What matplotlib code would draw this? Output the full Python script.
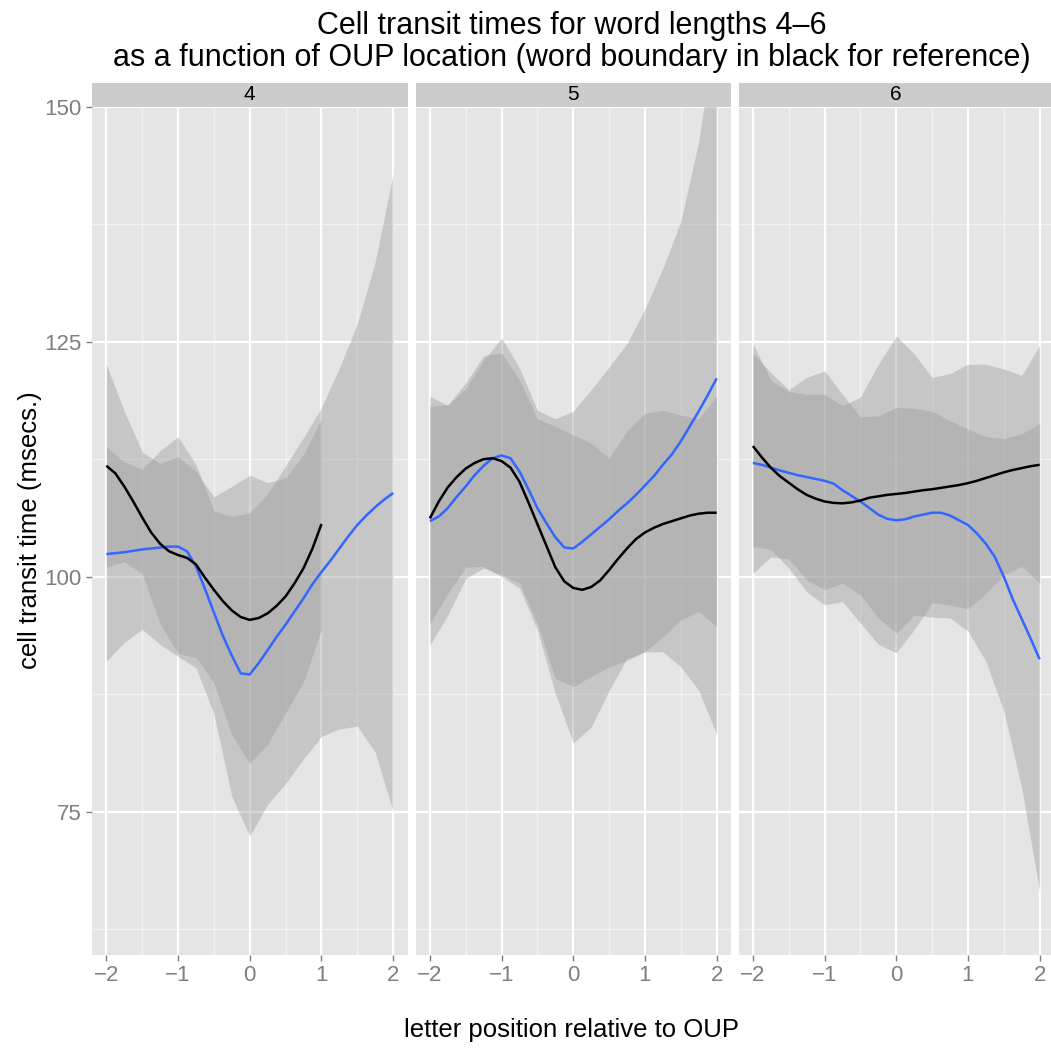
import numpy as np
import matplotlib
matplotlib.use("Agg")
import matplotlib.pyplot as plt

plt.rcParams['font.family'] = ['Liberation Sans', 'DejaVu Sans']

# ---------------- data ----------------
facet_labels = ["4", "5", "6"]
x_ticks = [-2, -1, 0, 1, 2]
y_ticks = [75, 100, 125, 150]

# fine grid for fitted lines
x_fine = [-2.0, -1.875, -1.75, -1.625, -1.5, -1.375, -1.25, -1.125, -1.0,
          -0.875, -0.75, -0.625, -0.5, -0.375, -0.25, -0.125, 0.0,
          0.125, 0.25, 0.375, 0.5, 0.625, 0.75, 0.875, 1.0,
          1.125, 1.25, 1.375, 1.5, 1.625, 1.75, 1.875, 2.0]
# coarse grid for confidence bands
x_band = [-2.0, -1.75, -1.5, -1.25, -1.0, -0.75, -0.5, -0.25, 0.0,
          0.25, 0.5, 0.75, 1.0, 1.25, 1.5, 1.75, 2.0]

# --- word length 4 (word boundary only reaches x = 1) ---
wl4_boundary_fit = [111.8, 111.0, 109.6, 108.0, 106.3, 104.7, 103.5, 102.7, 102.3,
                    102.0, 101.3, 99.9, 98.6, 97.4, 96.4, 95.7, 95.4,
                    95.6, 96.1, 96.9, 97.9, 99.3, 100.9, 103.0, 105.6]
wl4_oup_fit = [102.4, 102.5, 102.6, 102.75, 102.9, 103.0, 103.1, 103.2, 103.2,
               102.7, 101.1, 98.7, 96.2, 93.7, 91.6, 89.7, 89.6,
               90.8, 92.2, 93.6, 94.9, 96.3, 97.7, 99.2, 100.5,
               101.7, 103.0, 104.3, 105.5, 106.5, 107.4, 108.2, 108.9]
wl4_boundary_upper = [122.6, 117.6, 113.3, 112.0, 112.8, 111.2, 108.5, 109.6, 110.8,
                      110.0, 110.5, 113.0, 116.8]
wl4_boundary_lower = [101.0, 101.6, 100.3, 95.0, 91.8, 91.4, 88.7, 83.2, 80.1,
                      82.2, 85.5, 88.8, 94.4]
wl4_oup_upper = [113.8, 112.2, 111.4, 113.4, 114.9, 111.9, 107.0, 106.4, 106.8,
                 108.8, 111.8, 114.8, 118.0, 122.2, 126.9, 133.5, 142.9]
wl4_oup_lower = [91.0, 93.0, 94.4, 92.8, 91.5, 90.3, 85.4, 76.6, 72.4,
                 75.8, 78.0, 80.6, 83.0, 83.8, 84.1, 81.3, 75.0]

# --- word length 5 ---
wl5_boundary_fit = [106.2, 108.0, 109.5, 110.6, 111.5, 112.1, 112.5, 112.6, 112.3,
                    111.6, 110.1, 107.9, 105.6, 103.3, 101.0, 99.5, 98.8,
                    98.6, 98.9, 99.6, 100.7, 101.9, 103.0, 104.0, 104.7,
                    105.2, 105.6, 105.9, 106.2, 106.5, 106.7, 106.8, 106.8]
wl5_oup_fit = [105.9, 106.4, 107.3, 108.5, 109.6, 110.8, 111.8, 112.6, 112.9,
               112.6, 111.2, 109.3, 107.3, 105.7, 104.2, 103.1, 103.0,
               103.7, 104.5, 105.3, 106.1, 107.0, 107.8, 108.7, 109.7,
               110.7, 111.9, 113.0, 114.4, 116.0, 117.6, 119.3, 121.1]
wl5_boundary_upper = [118.1, 118.3, 120.6, 123.5, 123.8, 120.9, 116.8, 116.0, 115.1,
                      114.2, 112.6, 115.5, 117.4, 117.7, 117.2, 116.8, 119.2]
wl5_boundary_lower = [95.0, 98.2, 101.0, 101.1, 100.0, 98.8, 94.3, 87.6, 82.3,
                      84.0, 87.9, 91.3, 92.0, 93.6, 95.4, 96.3, 94.7]
wl5_oup_upper = [119.2, 118.2, 120.0, 123.0, 125.4, 122.2, 117.7, 116.8, 117.6,
                 119.9, 122.3, 124.8, 128.5, 132.8, 137.8, 146.3, 159.0]
wl5_oup_lower = [92.7, 95.9, 99.8, 100.9, 100.2, 99.3, 95.0, 89.2, 88.3,
                 89.4, 90.4, 91.1, 92.0, 92.0, 90.4, 87.9, 83.2]

# --- word length 6 ---
wl6_boundary_fit = [113.9, 112.7, 111.6, 110.7, 110.0, 109.3, 108.7, 108.3, 108.0,
                    107.85, 107.8, 107.9, 108.1, 108.4, 108.55, 108.7, 108.8,
                    108.9, 109.05, 109.2, 109.3, 109.45, 109.6, 109.75, 109.95,
                    110.2, 110.5, 110.8, 111.1, 111.35, 111.55, 111.75, 111.9]
wl6_oup_fit = [112.1, 111.9, 111.6, 111.3, 111.05, 110.8, 110.6, 110.4, 110.2,
               109.9, 109.2, 108.6, 108.0, 107.3, 106.6, 106.15, 106.0,
               106.1, 106.4, 106.6, 106.8, 106.8, 106.5, 106.0, 105.5,
               104.6, 103.5, 102.1, 100.0, 97.6, 95.5, 93.4, 91.2]
wl6_boundary_upper = [124.8, 120.9, 119.7, 119.4, 119.4, 118.2, 119.1, 122.6, 125.6,
                      123.7, 121.2, 121.6, 122.6, 122.6, 122.1, 121.4, 124.6]
wl6_boundary_lower = [103.2, 102.9, 100.9, 98.4, 97.0, 97.35, 95.05, 92.8, 91.9,
                      94.35, 97.2, 97.0, 96.6, 98.2, 100.2, 101.1, 99.3]
wl6_oup_upper = [123.8, 121.7, 119.9, 121.2, 121.9, 119.4, 117.0, 117.1, 118.0,
                 117.9, 117.6, 116.6, 115.7, 114.9, 114.7, 115.2, 116.3]
wl6_oup_lower = [100.35, 102.1, 101.9, 99.65, 98.6, 99.3, 98.05, 95.6, 94.0,
                 95.9, 95.7, 95.6, 94.2, 91.0, 85.7, 77.5, 66.5]

panels = [
    dict(b_fit=wl4_boundary_fit, o_fit=wl4_oup_fit,
         b_up=wl4_boundary_upper, b_lo=wl4_boundary_lower,
         o_up=wl4_oup_upper, o_lo=wl4_oup_lower),
    dict(b_fit=wl5_boundary_fit, o_fit=wl5_oup_fit,
         b_up=wl5_boundary_upper, b_lo=wl5_boundary_lower,
         o_up=wl5_oup_upper, o_lo=wl5_oup_lower),
    dict(b_fit=wl6_boundary_fit, o_fit=wl6_oup_fit,
         b_up=wl6_boundary_upper, b_lo=wl6_boundary_lower,
         o_up=wl6_oup_upper, o_lo=wl6_oup_lower),
]

# ---------------- styling ----------------
W, H = 1051, 1048
fig = plt.figure(figsize=(W / 100, H / 100), dpi=100)
fig.patch.set_facecolor("white")

def rect(l, t, r, b):
    return [l / W, 1 - b / H, (r - l) / W, (b - t) / H]

panel_left = [92, 415.5, 738.5]
panel_w = 315.5
p_top, p_bot = 106.7, 954.5
strip_top = 83

BG = "#E5E5E5"
RIB = "#999999"
GREY50 = "#7F7F7F"
TICK_FS = 16

for i, (lab, d) in enumerate(zip(facet_labels, panels)):
    l = panel_left[i]
    ax = fig.add_axes(rect(l, p_top, l + panel_w, p_bot))
    ax.set_facecolor(BG)
    ax.set_xlim(-2.2, 2.2)
    ax.set_ylim(59.8, 150)
    # grid
    for yv in [62.5, 87.5, 112.5, 137.5]:
        ax.axhline(yv, color="#F2F2F2", lw=1.0, zorder=0.5)
    for xv in [-1.5, -0.5, 0.5, 1.5]:
        ax.axvline(xv, color="#F2F2F2", lw=1.0, zorder=0.5)
    for yv in y_ticks:
        ax.axhline(yv, color="white", lw=1.6, zorder=0.6)
    for xv in x_ticks:
        ax.axvline(xv, color="white", lw=1.6, zorder=0.6)

    nb_band = len(d["b_up"])
    nb_fit = len(d["b_fit"])
    ax.fill_between(x_band[:nb_band], d["b_lo"], d["b_up"], color=RIB, alpha=0.4,
                    lw=0, zorder=1)
    ax.fill_between(x_band, d["o_lo"], d["o_up"], color=RIB, alpha=0.4,
                    lw=0, zorder=1)
    ax.plot(x_fine, d["o_fit"], color="#3366FF", lw=1.8, zorder=3,
            solid_capstyle="butt", solid_joinstyle="round")
    ax.plot(x_fine[:nb_fit], d["b_fit"], color="black", lw=1.8, zorder=4,
            solid_capstyle="butt", solid_joinstyle="round")

    for s in ax.spines.values():
        s.set_visible(False)
    ax.set_xticks(x_ticks)
    ax.set_xticklabels(["\u22122", "\u22121", "0", "1", "2"])
    ax.tick_params(axis="x", colors=GREY50, labelsize=TICK_FS, length=4.5,
                   width=1, pad=3)
    if i == 0:
        ax.set_yticks(y_ticks)
        ax.set_yticklabels([str(v) for v in y_ticks])
        ax.tick_params(axis="y", colors=GREY50, labelsize=TICK_FS, length=4.5,
                       width=1, pad=3)
    else:
        ax.set_yticks(y_ticks)
        ax.tick_params(axis="y", length=0, labelleft=False)
    for t in ax.get_xticklabels() + ax.get_yticklabels():
        t.set_color(GREY50)

    # strip
    sax = fig.add_axes(rect(l, strip_top, l + panel_w, p_top))
    sax.set_facecolor("#CCCCCC")
    sax.set_xticks([])
    sax.set_yticks([])
    for s in sax.spines.values():
        s.set_visible(False)
    sax.text(0.5, 0.5, lab, ha="center", va="center", fontsize=15,
             transform=sax.transAxes)

fig.text(571.5 / W, 1 - 26 / H, "Cell transit times for word lengths 4\u20136",
         ha="center", va="center", fontsize=22)
fig.text(571.5 / W, 1 - 58 / H,
         "as a function of OUP location (word boundary in black for reference)",
         ha="center", va="center", fontsize=22)
fig.text(571.5 / W, 1 - 1030 / H, "letter position relative to OUP",
         ha="center", va="center", fontsize=18.5)
fig.text(30 / W, 1 - 530.6 / H, "cell transit time (msecs.)",
         ha="center", va="center", rotation=90, fontsize=18.5)

fig.savefig("out.png", dpi=100, facecolor="white")
